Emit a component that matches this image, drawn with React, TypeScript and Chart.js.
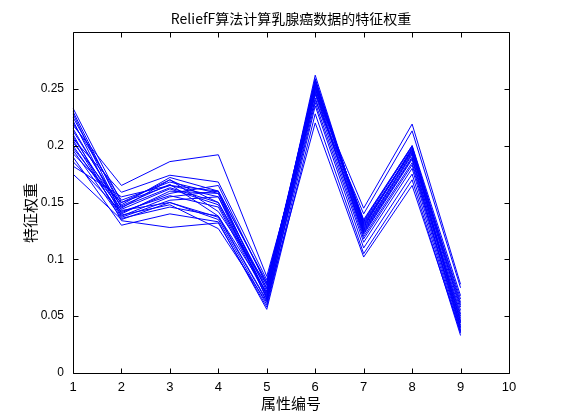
import React, { useEffect, useRef } from "react";
import { Chart, registerables } from "chart.js";

Chart.register(...registerables);

const TITLE = "ReliefF算法计算乳腺癌数据的特征权重";
const X_TITLE = "属性编号";
const Y_TITLE = "特征权重";
const CATEGORIES = ["1", "2", "3", "4", "5", "6", "7", "8", "9", "10"];
const Y_MIN = 0;
const Y_MAX = 0.3;
const Y_STEP = 0.05;

const run01 = [0.233, 0.150, 0.165, 0.155, 0.075, 0.258, 0.130, 0.195, 0.045];
const run02 = [0.230, 0.145, 0.170, 0.150, 0.070, 0.262, 0.128, 0.198, 0.040];
const run03 = [0.228, 0.140, 0.160, 0.158, 0.065, 0.255, 0.125, 0.192, 0.050];
const run04 = [0.225, 0.148, 0.172, 0.160, 0.080, 0.250, 0.135, 0.200, 0.055];
const run05 = [0.222, 0.138, 0.155, 0.160, 0.068, 0.245, 0.122, 0.188, 0.038];
const run06 = [0.220, 0.152, 0.168, 0.158, 0.072, 0.253, 0.132, 0.196, 0.060];
const run07 = [0.218, 0.165, 0.186, 0.192, 0.085, 0.240, 0.140, 0.213, 0.075];
const run08 = [0.215, 0.143, 0.150, 0.135, 0.060, 0.248, 0.120, 0.185, 0.042];
const run09 = [0.213, 0.146, 0.163, 0.150, 0.074, 0.257, 0.127, 0.194, 0.048];
const run10 = [0.210, 0.134, 0.128, 0.132, 0.058, 0.235, 0.110, 0.175, 0.035];
const run11 = [0.208, 0.141, 0.158, 0.165, 0.077, 0.252, 0.133, 0.199, 0.062];
const run12 = [0.206, 0.159, 0.174, 0.168, 0.082, 0.246, 0.145, 0.219, 0.078];
const run13 = [0.205, 0.137, 0.152, 0.155, 0.066, 0.250, 0.124, 0.190, 0.044];
const run14 = [0.203, 0.147, 0.166, 0.138, 0.071, 0.259, 0.129, 0.197, 0.052];
const run15 = [0.200, 0.139, 0.148, 0.127, 0.062, 0.242, 0.118, 0.183, 0.040];
const run16 = [0.198, 0.144, 0.162, 0.148, 0.069, 0.254, 0.126, 0.193, 0.058];
const run17 = [0.196, 0.136, 0.146, 0.138, 0.064, 0.238, 0.115, 0.180, 0.037];
const run18 = [0.193, 0.150, 0.170, 0.142, 0.078, 0.256, 0.131, 0.196, 0.065];
const run19 = [0.190, 0.130, 0.140, 0.133, 0.056, 0.228, 0.105, 0.170, 0.033];
const run20 = [0.186, 0.142, 0.156, 0.146, 0.067, 0.247, 0.123, 0.189, 0.046];
const run21 = [0.182, 0.155, 0.165, 0.160, 0.079, 0.251, 0.134, 0.200, 0.068];
const run22 = [0.175, 0.135, 0.150, 0.137, 0.063, 0.220, 0.102, 0.165, 0.036];

const RUNS = [
  run01, run02, run03, run04, run05, run06, run07, run08, run09, run10, run11,
  run12, run13, run14, run15, run16, run17, run18, run19, run20, run21, run22,
];

const FONT_NUM = "'Liberation Sans', Arial, sans-serif";
const FONT_CJK = "'Noto Sans CJK SC', 'Liberation Sans', sans-serif";

const boxPlugin = {
  id: "matlabBox",
  afterDatasetsDraw(chart: any) {
    const { ctx, chartArea, scales } = chart;
    const { left, right, top, bottom } = chartArea;
    const L = Math.round(left) + 0.5;
    const R = Math.round(right) + 0.5;
    const T = Math.round(top) + 0.5;
    const B = Math.round(bottom) + 0.5;
    const tl = 5;
    ctx.save();
    ctx.strokeStyle = "#000";
    ctx.lineWidth = 1;
    ctx.beginPath();
    ctx.rect(L, T, R - L, B - T);
    const xs = scales.x;
    for (let i = 0; i < xs.ticks.length; i++) {
      const px = Math.round(xs.getPixelForTick(i)) + 0.5;
      ctx.moveTo(px, B);
      ctx.lineTo(px, B - tl);
      ctx.moveTo(px, T);
      ctx.lineTo(px, T + tl);
    }
    const ys = scales.y;
    for (let i = 0; i < ys.ticks.length; i++) {
      const py = Math.round(ys.getPixelForValue(ys.ticks[i].value)) + 0.5;
      ctx.moveTo(L, py);
      ctx.lineTo(L + tl, py);
      ctx.moveTo(R, py);
      ctx.lineTo(R - tl, py);
    }
    ctx.stroke();

    ctx.fillStyle = "#000";
    ctx.font = `15px ${FONT_CJK}`;
    ctx.textAlign = "center";
    ctx.textBaseline = "middle";
    ctx.fillText(X_TITLE, (left + right) / 2, 403);
    ctx.translate(30, 213);
    ctx.rotate(-Math.PI / 2);
    ctx.fillText(Y_TITLE, 0, 0);
    ctx.restore();
  },
};

export default function App() {
  const ref = useRef<HTMLCanvasElement | null>(null);

  useEffect(() => {
    if (!ref.current) return;
    const chart = new Chart(ref.current, {
      type: "line",
      data: {
        labels: CATEGORIES,
        datasets: RUNS.map((r, i) => ({
          label: `run${i + 1}`,
          data: r,
          borderColor: "rgb(0,0,255)",
          borderWidth: 1,
          pointRadius: 0,
          fill: false,
          tension: 0,
        })),
      },
      options: {
        animation: false,
        responsive: false,
        devicePixelRatio: 1,
        layout: { padding: { left: 0, right: 52, top: 0, bottom: 0 } },
        plugins: {
          legend: { display: false },
          tooltip: { enabled: false },
          title: {
            display: true,
            text: TITLE,
            fullSize: false,
            color: "#000",
            font: { family: FONT_CJK, size: 14, weight: "normal", lineHeight: 1.2 },
            padding: { top: 10, bottom: 5.2 },
          },
        },
        scales: {
          x: {
            type: "category",
            offset: false,
            grid: { display: false, drawTicks: false },
            border: { display: false },
            ticks: {
              color: "#000",
              font: { family: FONT_NUM, size: 13 },
              padding: 7,
              maxRotation: 0,
              autoSkip: false,
            },
            afterFit: (s: any) => {
              s.height = 47;
            },
          },
          y: {
            type: "linear",
            min: Y_MIN,
            max: Y_MAX,
            grid: { display: false, drawTicks: false },
            border: { display: false },
            ticks: {
              color: "#000",
              stepSize: Y_STEP,
              font: { family: FONT_NUM, size: 12 },
              padding: 9,
              callback: (v: any) => String(Number(Number(v).toFixed(2))),
            },
            afterBuildTicks: (s: any) => {
              s.ticks = s.ticks.filter((t: any) => t.value < Y_MAX - 1e-9);
            },
            afterFit: (s: any) => {
              s.width = 73;
            },
          },
        },
      },
      plugins: [boxPlugin],
    });
    return () => chart.destroy();
  }, []);

  return (
    <div style={{ position: "absolute", left: 0, top: 0, width: 561, height: 420, background: "#fff" }}>
      <canvas ref={ref} width={561} height={420} />
    </div>
  );
}
